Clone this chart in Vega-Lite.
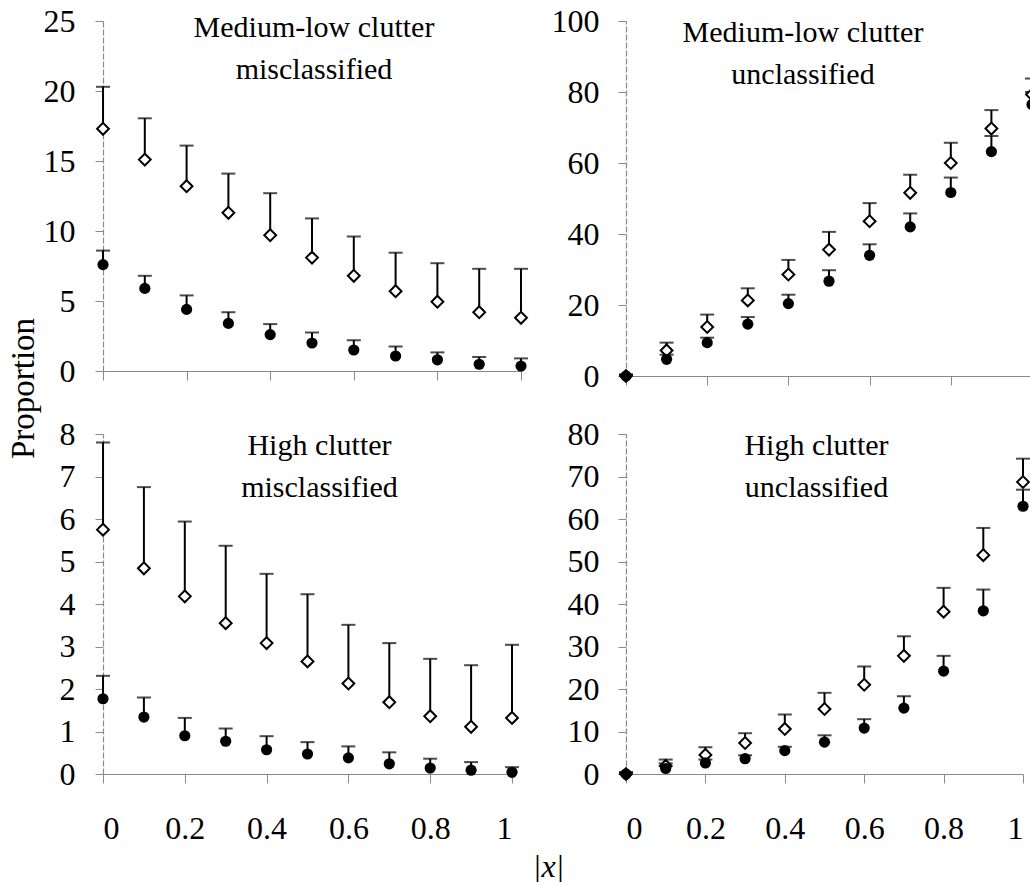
{
  "$schema": "https://vega.github.io/schema/vega-lite/v6.json",
  "background": "white",
  "padding": {"left": 8, "top": 5, "right": 0, "bottom": 0},
  "datasets": {
    "pts": [
      {"p":"TL","s":"d","x":0,"v":17.3,"u":20.3},
      {"p":"TL","s":"d","x":0.1,"v":15.1,"u":18.05},
      {"p":"TL","s":"d","x":0.2,"v":13.2,"u":16.1},
      {"p":"TL","s":"d","x":0.3,"v":11.3,"u":14.1},
      {"p":"TL","s":"d","x":0.4,"v":9.7,"u":12.7},
      {"p":"TL","s":"d","x":0.5,"v":8.1,"u":10.9},
      {"p":"TL","s":"d","x":0.6,"v":6.8,"u":9.6},
      {"p":"TL","s":"d","x":0.7,"v":5.7,"u":8.45},
      {"p":"TL","s":"d","x":0.8,"v":4.95,"u":7.7},
      {"p":"TL","s":"d","x":0.9,"v":4.2,"u":7.3},
      {"p":"TL","s":"d","x":1.0,"v":3.8,"u":7.3},
      {"p":"TL","s":"c","x":0,"v":7.6,"u":8.6},
      {"p":"TL","s":"c","x":0.1,"v":5.9,"u":6.8},
      {"p":"TL","s":"c","x":0.2,"v":4.4,"u":5.4},
      {"p":"TL","s":"c","x":0.3,"v":3.4,"u":4.2},
      {"p":"TL","s":"c","x":0.4,"v":2.6,"u":3.35},
      {"p":"TL","s":"c","x":0.5,"v":2.0,"u":2.75},
      {"p":"TL","s":"c","x":0.6,"v":1.5,"u":2.2},
      {"p":"TL","s":"c","x":0.7,"v":1.07,"u":1.75},
      {"p":"TL","s":"c","x":0.8,"v":0.8,"u":1.33},
      {"p":"TL","s":"c","x":0.9,"v":0.48,"u":1.0},
      {"p":"TL","s":"c","x":1.0,"v":0.35,"u":0.9},

      {"p":"TR","s":"d","x":0,"v":0,"u":0.4},
      {"p":"TR","s":"d","x":0.1,"v":7.2,"u":9.4},
      {"p":"TR","s":"d","x":0.2,"v":13.8,"u":17.3},
      {"p":"TR","s":"d","x":0.3,"v":21.3,"u":24.7},
      {"p":"TR","s":"d","x":0.4,"v":28.6,"u":32.7},
      {"p":"TR","s":"d","x":0.5,"v":35.6,"u":40.6},
      {"p":"TR","s":"d","x":0.6,"v":43.6,"u":48.7},
      {"p":"TR","s":"d","x":0.7,"v":51.6,"u":56.7},
      {"p":"TR","s":"d","x":0.8,"v":60.0,"u":65.7},
      {"p":"TR","s":"d","x":0.9,"v":69.7,"u":74.9},
      {"p":"TR","s":"d","x":1.0,"v":79.3,"u":83.8},
      {"p":"TR","s":"c","x":0,"v":0,"u":0.4},
      {"p":"TR","s":"c","x":0.1,"v":4.7,"u":6.0},
      {"p":"TR","s":"c","x":0.2,"v":9.4,"u":10.8},
      {"p":"TR","s":"c","x":0.3,"v":14.6,"u":16.6},
      {"p":"TR","s":"c","x":0.4,"v":20.4,"u":22.9},
      {"p":"TR","s":"c","x":0.5,"v":26.7,"u":29.8},
      {"p":"TR","s":"c","x":0.6,"v":34.0,"u":37.1},
      {"p":"TR","s":"c","x":0.7,"v":42.0,"u":45.8},
      {"p":"TR","s":"c","x":0.8,"v":51.7,"u":55.9},
      {"p":"TR","s":"c","x":0.9,"v":63.2,"u":67.6},
      {"p":"TR","s":"c","x":1.0,"v":76.5,"u":80.0},

      {"p":"BL","s":"d","x":0,"v":5.75,"u":7.8},
      {"p":"BL","s":"d","x":0.1,"v":4.84,"u":6.75},
      {"p":"BL","s":"d","x":0.2,"v":4.18,"u":5.94},
      {"p":"BL","s":"d","x":0.3,"v":3.55,"u":5.37},
      {"p":"BL","s":"d","x":0.4,"v":3.08,"u":4.71},
      {"p":"BL","s":"d","x":0.5,"v":2.65,"u":4.23},
      {"p":"BL","s":"d","x":0.6,"v":2.13,"u":3.51},
      {"p":"BL","s":"d","x":0.7,"v":1.69,"u":3.08},
      {"p":"BL","s":"d","x":0.8,"v":1.36,"u":2.71},
      {"p":"BL","s":"d","x":0.9,"v":1.11,"u":2.56},
      {"p":"BL","s":"d","x":1.0,"v":1.32,"u":3.04},
      {"p":"BL","s":"c","x":0,"v":1.77,"u":2.31},
      {"p":"BL","s":"c","x":0.1,"v":1.34,"u":1.8},
      {"p":"BL","s":"c","x":0.2,"v":0.9,"u":1.32},
      {"p":"BL","s":"c","x":0.3,"v":0.77,"u":1.07},
      {"p":"BL","s":"c","x":0.4,"v":0.57,"u":0.89},
      {"p":"BL","s":"c","x":0.5,"v":0.47,"u":0.75},
      {"p":"BL","s":"c","x":0.6,"v":0.38,"u":0.65},
      {"p":"BL","s":"c","x":0.7,"v":0.24,"u":0.51},
      {"p":"BL","s":"c","x":0.8,"v":0.14,"u":0.36},
      {"p":"BL","s":"c","x":0.9,"v":0.09,"u":0.28},
      {"p":"BL","s":"c","x":1.0,"v":0.04,"u":0.16},

      {"p":"BR","s":"d","x":0,"v":0,"u":0.4},
      {"p":"BR","s":"d","x":0.1,"v":1.9,"u":3.4},
      {"p":"BR","s":"d","x":0.2,"v":4.5,"u":6.3},
      {"p":"BR","s":"d","x":0.3,"v":7.3,"u":9.6},
      {"p":"BR","s":"d","x":0.4,"v":10.6,"u":14.0},
      {"p":"BR","s":"d","x":0.5,"v":15.3,"u":19.1},
      {"p":"BR","s":"d","x":0.6,"v":21.0,"u":25.3},
      {"p":"BR","s":"d","x":0.7,"v":27.8,"u":32.4},
      {"p":"BR","s":"d","x":0.8,"v":38.2,"u":43.8},
      {"p":"BR","s":"d","x":0.9,"v":51.5,"u":57.9},
      {"p":"BR","s":"d","x":1.0,"v":68.7,"u":74.2},
      {"p":"BR","s":"c","x":0,"v":0,"u":0.4},
      {"p":"BR","s":"c","x":0.1,"v":1.3,"u":2.5},
      {"p":"BR","s":"c","x":0.2,"v":2.6,"u":3.4},
      {"p":"BR","s":"c","x":0.3,"v":3.6,"u":4.4},
      {"p":"BR","s":"c","x":0.4,"v":5.5,"u":6.4},
      {"p":"BR","s":"c","x":0.5,"v":7.5,"u":9.1},
      {"p":"BR","s":"c","x":0.6,"v":10.8,"u":12.9},
      {"p":"BR","s":"c","x":0.7,"v":15.5,"u":18.3},
      {"p":"BR","s":"c","x":0.8,"v":24.2,"u":27.8},
      {"p":"BR","s":"c","x":0.9,"v":38.4,"u":43.4},
      {"p":"BR","s":"c","x":1.0,"v":63.0,"u":66.9}
    ]
  },
  "data": {"name": "pts"},
  "title": {"text": "Proportion", "orient": "left", "anchor": "middle", "font": "Liberation Serif", "fontSize": 33, "fontWeight": "normal", "color": "black", "offset": 2, "dx": 55},
  "columns": 2,
  "bounds": "flush",
  "spacing": {"row": 58, "column": 105},
  "concat": [
    {
      "width": 418, "height": 350,
      "title": {"text": ["Medium-low clutter", "misclassified"], "frame": "group", "offset": -80, "dx": 2},
      "transform": [{"filter": "datum.p === 'TL'"}],
      "encoding": {"x": {"field": "x", "type": "quantitative", "scale": {"domain": [0, 1], "nice": false}, "axis": {"values": [0, 0.2, 0.4, 0.6, 0.8, 1], "labels": false, "title": null, "tickSize": 9}}},
      "layer": [
        {"mark": {"type": "rule", "color": "black", "strokeWidth": 2}, "encoding": {"y": {"field": "v", "type": "quantitative", "scale": {"domain": [0, 25], "nice": false}, "axis": {"values": [0, 5, 10, 15, 20, 25], "title": null, "labelPadding": 20}}, "y2": {"field": "u"}}},
        {"mark": {"type": "tick", "orient": "horizontal", "size": 14, "thickness": 2, "color": "black"}, "encoding": {"y": {"field": "u", "type": "quantitative"}}},
        {"transform": [{"filter": "datum.s === 'd'"}], "mark": {"type": "point", "shape": "diamond", "filled": true, "fill": "white", "stroke": "black", "strokeWidth": 2, "size": 140, "opacity": 1}, "encoding": {"y": {"field": "v", "type": "quantitative"}}},
        {"transform": [{"filter": "datum.s === 'c'"}], "mark": {"type": "point", "shape": "circle", "filled": true, "color": "black", "size": 125, "opacity": 1}, "encoding": {"y": {"field": "v", "type": "quantitative"}}}
      ]
    },
    {
      "width": 406, "height": 355,
      "title": {"text": ["Medium-low clutter", "unclassified"], "frame": "group", "offset": -85, "dx": -26},
      "transform": [{"filter": "datum.p === 'TR'"}],
      "encoding": {"x": {"field": "x", "type": "quantitative", "scale": {"domain": [0, 1], "nice": false}, "axis": {"values": [0, 0.2, 0.4, 0.6, 0.8, 1], "labels": false, "title": null, "tickSize": 9}}},
      "layer": [
        {"mark": {"type": "rule", "color": "black", "strokeWidth": 2}, "encoding": {"y": {"field": "v", "type": "quantitative", "scale": {"domain": [0, 100], "nice": false}, "axis": {"values": [0, 20, 40, 60, 80, 100], "title": null, "labelPadding": 19}}, "y2": {"field": "u"}}},
        {"mark": {"type": "tick", "orient": "horizontal", "size": 14, "thickness": 2, "color": "black"}, "encoding": {"y": {"field": "u", "type": "quantitative"}}},
        {"transform": [{"filter": "datum.s === 'd'"}], "mark": {"type": "point", "shape": "diamond", "filled": true, "fill": "white", "stroke": "black", "strokeWidth": 2, "size": 140, "opacity": 1}, "encoding": {"y": {"field": "v", "type": "quantitative"}}},
        {"transform": [{"filter": "datum.s === 'c'"}], "mark": {"type": "point", "shape": "circle", "filled": true, "color": "black", "size": 125, "opacity": 1}, "encoding": {"y": {"field": "v", "type": "quantitative"}}}
      ]
    },
    {
      "width": 409, "height": 340,
      "title": {"text": ["High clutter", "misclassified"], "frame": "group", "offset": -85, "dx": 12},
      "transform": [{"filter": "datum.p === 'BL'"}],
      "encoding": {"x": {"field": "x", "type": "quantitative", "scale": {"domain": [0, 1], "nice": false}, "axis": {"values": [0, 0.2, 0.4, 0.6, 0.8, 1], "format": "~g", "labelPadding": 30, "tickSize": 9, "title": "|x|", "titleX": 445, "titleY": 77, "titleBaseline": "top", "titleFontStyle": "italic"}}},
      "layer": [
        {"mark": {"type": "rule", "color": "black", "strokeWidth": 2}, "encoding": {"y": {"field": "v", "type": "quantitative", "scale": {"domain": [0, 8], "nice": false}, "axis": {"values": [0, 1, 2, 3, 4, 5, 6, 7, 8], "title": null, "labelPadding": 20}}, "y2": {"field": "u"}}},
        {"mark": {"type": "tick", "orient": "horizontal", "size": 14, "thickness": 2, "color": "black"}, "encoding": {"y": {"field": "u", "type": "quantitative"}}},
        {"transform": [{"filter": "datum.s === 'd'"}], "mark": {"type": "point", "shape": "diamond", "filled": true, "fill": "white", "stroke": "black", "strokeWidth": 2, "size": 140, "opacity": 1}, "encoding": {"y": {"field": "v", "type": "quantitative"}}},
        {"transform": [{"filter": "datum.s === 'c'"}], "mark": {"type": "point", "shape": "circle", "filled": true, "color": "black", "size": 125, "opacity": 1}, "encoding": {"y": {"field": "v", "type": "quantitative"}}}
      ]
    },
    {
      "width": 397, "height": 340,
      "title": {"text": ["High clutter", "unclassified"], "frame": "group", "offset": -85, "dx": -8},
      "transform": [{"filter": "datum.p === 'BR'"}],
      "encoding": {"x": {"field": "x", "type": "quantitative", "scale": {"domain": [0, 1], "nice": false}, "axis": {"values": [0, 0.2, 0.4, 0.6, 0.8, 1], "format": "~g", "labelPadding": 30, "tickSize": 9, "title": null}}},
      "layer": [
        {"mark": {"type": "rule", "color": "black", "strokeWidth": 2}, "encoding": {"y": {"field": "v", "type": "quantitative", "scale": {"domain": [0, 80], "nice": false}, "axis": {"values": [0, 10, 20, 30, 40, 50, 60, 70, 80], "title": null, "labelPadding": 19}}, "y2": {"field": "u"}}},
        {"mark": {"type": "tick", "orient": "horizontal", "size": 14, "thickness": 2, "color": "black"}, "encoding": {"y": {"field": "u", "type": "quantitative"}}},
        {"transform": [{"filter": "datum.s === 'd'"}], "mark": {"type": "point", "shape": "diamond", "filled": true, "fill": "white", "stroke": "black", "strokeWidth": 2, "size": 140, "opacity": 1}, "encoding": {"y": {"field": "v", "type": "quantitative"}}},
        {"transform": [{"filter": "datum.s === 'c'"}], "mark": {"type": "point", "shape": "circle", "filled": true, "color": "black", "size": 125, "opacity": 1}, "encoding": {"y": {"field": "v", "type": "quantitative"}}}
      ]
    }
  ],
  "config": {
    "view": {"stroke": null},
    "font": "Liberation Serif",
    "title": {"font": "Liberation Serif", "fontSize": 30, "fontWeight": "normal", "color": "black", "lineHeight": 42, "anchor": "middle"},
    "axis": {
      "grid": false,
      "labelFont": "Liberation Serif",
      "labelFontSize": 32,
      "labelColor": "black",
      "titleFont": "Liberation Serif",
      "titleFontSize": 32,
      "titleFontWeight": "normal",
      "titleColor": "black",
      "domainColor": "#8a8a8a",
      "domainWidth": 1.2,
      "tickColor": "#8a8a8a",
      "tickWidth": 1,
      "tickSize": 8
    },
    "axisY": {"domainDash": [6, 2]}
  }
}
